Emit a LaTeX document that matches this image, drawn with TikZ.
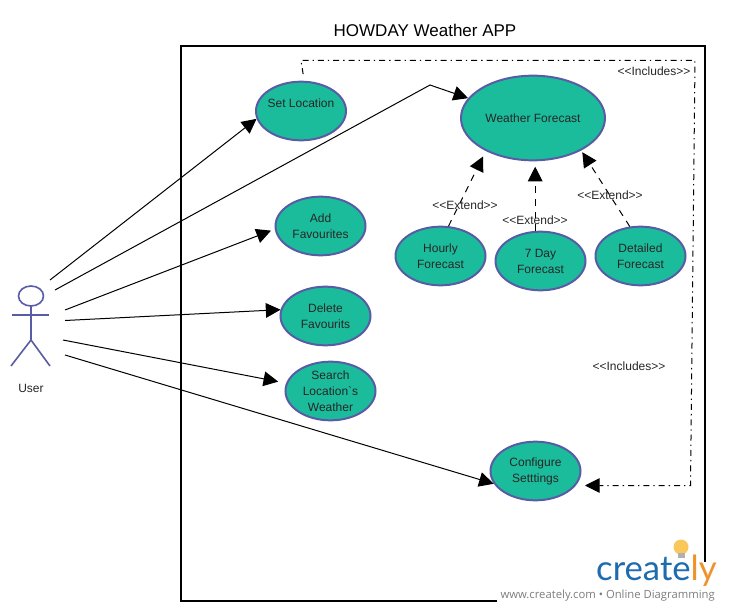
\documentclass[tikz,border=0pt]{standalone}
\usepackage{fontspec}
\setmainfont{Liberation Sans}
\newfontfamily\plainfont{Liberation Sans}
\newfontfamily\logofont{Lato}
\newfontfamily\footfont{Open Sans}
\usepackage{xcolor}
\usetikzlibrary{arrows.meta,positioning,shapes.geometric}
\definecolor{usecasefill}{RGB}{27,188,155}
\definecolor{usecaseline}{RGB}{88,92,165}
\definecolor{logoblue}{RGB}{30,107,174}
\definecolor{logoorange}{RGB}{240,146,43}
\definecolor{logobulb}{RGB}{250,200,90}
\definecolor{footgrey}{RGB}{125,125,125}
\tikzset{
    usecase/.style={ellipse,draw=usecaseline,fill=usecasefill,line width=1.5pt,
        minimum width=67.5pt,minimum height=44pt,inner sep=0pt,align=center,
        font=\fontsize{9}{12}\selectfont,text=black!85},
    stereo/.style={font=\fontsize{9}{10}\selectfont,text=black!85},
    assoc/.style={-{Triangle[length=11pt,width=11pt]},line width=0.75pt},
    extendline/.style={-{Triangle[length=11pt,width=11pt]},line width=0.75pt,dash pattern=on 5pt off 4.5pt},
    includeline/.style={-{Triangle[length=11pt,width=11pt]},line width=0.75pt,dash pattern=on 4.5pt off 3pt on 1pt off 3pt},
    actorline/.style={draw=usecaseline,line width=1.2pt}
}

\begin{document}
\begin{tikzpicture}[x=0.75pt,y=-0.75pt]
    \useasboundingbox (0,0) rectangle (729,610);

    % system frame
    \draw[line width=1.5pt] (497,600.5) -- (181,600.5) -- (181,46) -- (705,46) -- (705,562);
    \node (title) at (425,30) {\fontsize{12.75}{14}\selectfont HOWDAY Weather APP};

    % actor
    \draw[actorline] (31,296) circle [x radius=12.5, y radius=10];
    \draw[actorline] (31,306) -- (31,340);
    \draw[actorline] (12,315) -- (49,315);
    \draw[actorline] (11,366) -- (31,340) -- (50,366);
    \node[stereo] (user) at (31,388) {User};

    % use cases
    \node[usecase] (setloc) at (301,111) {\makebox[40pt]{Set Location}\\\mbox{}};
    \node[usecase,minimum width=108pt,minimum height=63.5pt] (weather) at (533,118) {Weather Forecast};
    \node[usecase] (addfav) at (320.5,226) {Add\\Favourites};
    \node[usecase] (delfav) at (325.5,316) {Delete\\Favourits};
    \node[usecase] (search) at (330.5,391) {Search\\Location{\plainfont`}s\\Weather};
    \node[usecase] (hourly) at (440.5,256) {Hourly\\Forecast};
    \node[usecase] (sevenday) at (540.5,261) {7 Day\\Forecast};
    \node[usecase] (detailed) at (640.5,256) {Detailed\\Forecast};
    \node[usecase] (config) at (535.5,471) {Configure\\Setttings};

    % free ends at the actor
    \coordinate (ua) at (50,280);
    \coordinate (ub) at (55,290);
    \coordinate (uc) at (65,310);
    \coordinate (ud) at (65,320.5);
    \coordinate (ue) at (63,340);
    \coordinate (uf) at (65,355);
    \coordinate (bend) at (430,85);

    \draw[assoc] (ua) -- (setloc.190);
    \draw[assoc] (ub) -- (bend) -- (weather.163);
    \draw[assoc,shorten >=3pt] (uc) -- (addfav.184);
    \draw[assoc] (ud) -- (delfav.172);
    \draw[assoc,shorten >=6pt] (ue) -- (search.170);
    \draw[assoc] (uf) -- (config.197);

    % extend
    \draw[extendline,shorten >=4.5pt] (hourly.75) -- (weather.215);
    \draw[extendline,shorten >=4pt] (sevenday.100) -- (sevenday.100 |- weather.south);
    \draw[extendline,shorten >=1.5pt] (detailed.110) -- (weather.326);
    \node[stereo] (exta) at (465,205) {<{}<Extend>{}>};
    \node[stereo] (extb) at (535,220) {<{}<Extend>{}>};
    \node[stereo] (extc) at (610,195) {<{}<Extend>{}>};

    % includes
    \coordinate (inca) at (301,60.5);
    \coordinate (incb) at (695,60.5);
    \coordinate (incc) at (690.5,485.5);
    \coordinate (incd) at (585,485.5);
    \draw[includeline,shorten <=5pt] (setloc.84) -- (inca) -- (incb) -- (incc) -- (incd);
    \node[stereo] (inctop) at (654,71) {<{}<Includes>{}>};
    \node[stereo] (incmid) at (629,366) {<{}<Includes>{}>};

    % watermark
    \fill[logobulb] (681,547) circle [radius=7.5];
    \fill[footgrey!60] (677.5,553) rectangle (684.5,558);
    \node[inner sep=0pt,anchor=base east,text=logoblue] (logo) at (717,580)
        {\fontsize{26}{26}\selectfont\logofont creat\textcolor{logoblue}{e}\textcolor{logoorange}{ly}};
    \node[inner sep=0pt,anchor=base east,text=footgrey] (foot) at (715,598)
        {\fontsize{8.46}{10}\selectfont\footfont www.creately.com • Online Diagramming};
\end{tikzpicture}
\end{document}
